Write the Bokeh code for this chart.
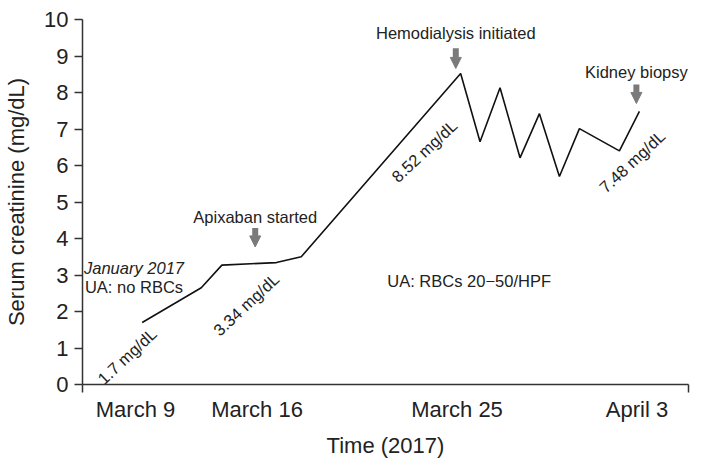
from bokeh.plotting import figure
from bokeh.models import (ColumnDataSource, FixedTicker, Range1d, Arrow, NormalHead)
from bokeh.core.properties import value
from bokeh.embed import file_html
from bokeh.resources import INLINE
import math

# Timeline positions (arbitrary axis units, 0-100) and serum creatinine values
x_pos = [9.85, 19.6, 23.0, 32.0, 36.1, 62.4, 65.6, 68.9, 72.2, 75.4, 78.7, 82.0, 88.6, 91.9]
creatinine = [1.70, 2.65, 3.27, 3.34, 3.50, 8.52, 6.65, 8.13, 6.21, 7.42, 5.70, 7.01, 6.40, 7.48]

tick_pos = [8.75, 28.8, 61.8, 91.5]
tick_labels = ["March 9", "March 16", "March 25", "April 3"]

# Event arrows
event_x = [28.5, 61.6, 91.4]
event_y_top = [4.29, 9.21, 8.22]
event_y_tip = [3.77, 8.66, 7.70]
event_text = ["Apixaban started", "Hemodialysis initiated", "Kidney biopsy"]
event_text_y = [4.60, 9.64, 8.56]

# Rotated value labels
val_x = [7.34, 27.0, 56.4, 90.7]
val_y = [0.78, 2.19, 6.40, 6.11]
val_text = ["1.7 mg/dL", "3.34 mg/dL", "8.52 mg/dL", "7.48 mg/dL"]

# Urinalysis notes
note_x = [8.5, 8.5, 63.8]
note_y = [3.19, 2.67, 2.83]
note_text = ["January 2017", "UA: no RBCs", "UA: RBCs 20\u221250/HPF"]
note_style = ["italic", "normal", "normal"]

FONT = "Liberation Sans"
TXT = "#222222"
AX = "#333333"
ARROW = "#7a7a7a"

p = figure(width=693, height=460, output_backend="svg", toolbar_location=None,
           x_range=Range1d(0, 100), y_range=Range1d(0, 10),
           min_border_left=82, min_border_right=5, min_border_top=19, min_border_bottom=75)
p.outline_line_color = None
p.grid.visible = False
p.background_fill_color = "white"

p.line(x_pos, creatinine, line_color="#111111", line_width=1.6)

# axes
xa = p.xaxis[0]
xa.ticker = FixedTicker(ticks=tick_pos, minor_ticks=[0, 100])
xa.major_label_overrides = {t: l for t, l in zip(tick_pos, tick_labels)}
xa.major_tick_out = 0
xa.major_tick_in = 0
xa.minor_tick_out = 8
xa.minor_tick_in = 0
xa.minor_tick_line_color = AX
xa.minor_tick_line_width = 1.5
xa.axis_line_color = AX
xa.axis_line_width = 1.5
xa.major_label_text_font = FONT
xa.major_label_text_font_size = "22px"
xa.major_label_text_color = TXT
xa.major_label_standoff = 4
xa.axis_label = "Time (2017)"
xa.axis_label_text_font = FONT
xa.axis_label_text_font_size = "22px"
xa.axis_label_text_font_style = "normal"
xa.axis_label_text_color = TXT
xa.axis_label_standoff = 8

ya = p.yaxis[0]
ya.ticker = FixedTicker(ticks=list(range(0, 11)))
ya.major_tick_out = 8
ya.major_tick_in = 0
ya.minor_tick_line_color = None
ya.major_tick_line_color = AX
ya.major_tick_line_width = 1.5
ya.axis_line_color = AX
ya.axis_line_width = 1.5
ya.major_label_text_font = FONT
ya.major_label_text_font_size = "22px"
ya.major_label_text_color = TXT
ya.major_label_standoff = 6
ya.axis_label = "Serum creatinine (mg/dL)"
ya.axis_label_text_font = FONT
ya.axis_label_text_font_size = "22px"
ya.axis_label_text_font_style = "normal"
ya.axis_label_text_color = TXT
ya.axis_label_standoff = 12

# event arrows
arrow_src = ColumnDataSource(dict(x0=event_x, y0=event_y_top, x1=event_x, y1=event_y_tip))
p.add_layout(Arrow(source=arrow_src, x_start="x0", y_start="y0", x_end="x1", y_end="y1",
                   line_color=ARROW, line_width=6,
                   end=NormalHead(size=11, fill_color=ARROW, line_color=ARROW, line_width=1)))

p.text(x=event_x, y=event_text_y, text=event_text, text_font=value(FONT),
       text_font_size="16.5px", text_color=TXT, text_align="center", text_baseline="middle")

p.text(x=val_x, y=val_y, text=val_text, angle=math.radians(43), text_font=value(FONT),
       text_font_size="16.5px", text_color=TXT, text_align="center", text_baseline="middle")

note_src = ColumnDataSource(dict(x=note_x, y=note_y, t=note_text, s=note_style))
p.text(x="x", y="y", text="t", text_font_style="s", source=note_src, text_font=value(FONT),
       text_font_size="16.5px", text_color=TXT, text_align="center", text_baseline="middle")

open("out.html", "w").write(file_html(p, INLINE))
